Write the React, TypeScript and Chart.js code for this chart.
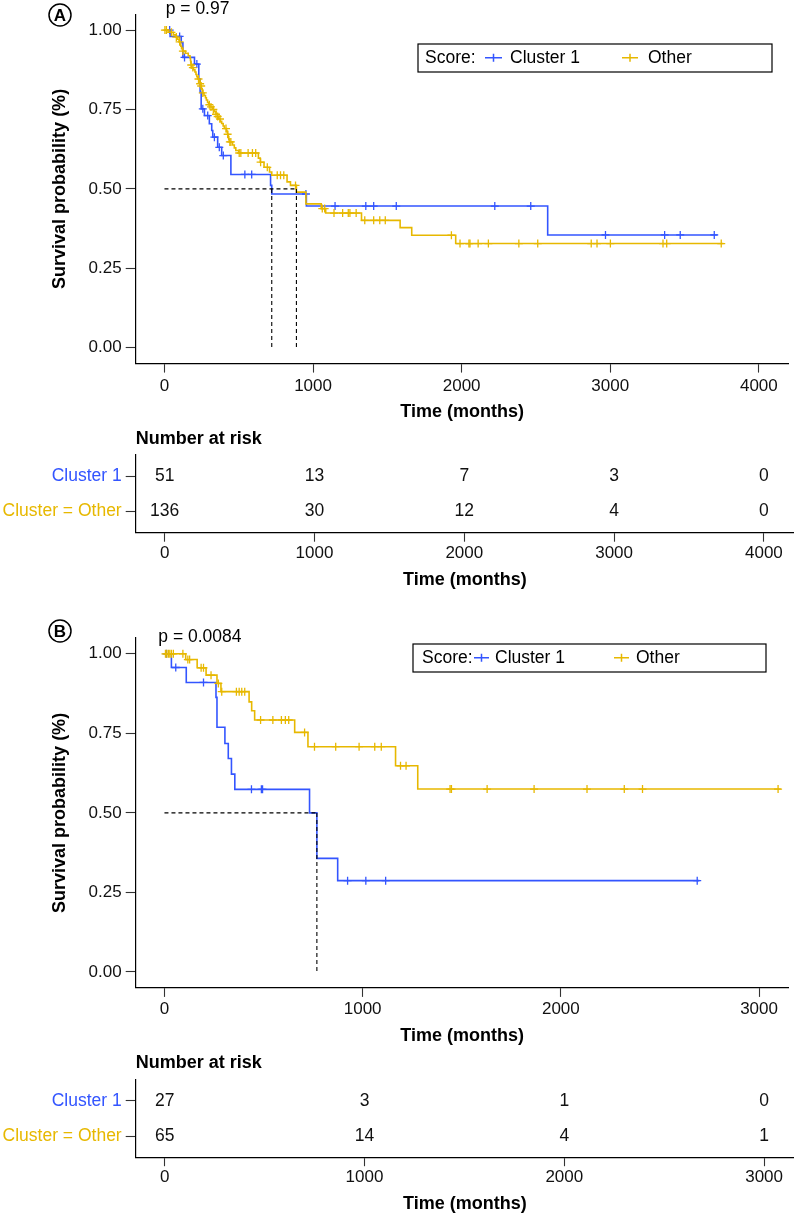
import React, { useEffect, useRef } from 'react';
import { Chart, registerables } from 'chart.js';

Chart.register(...registerables);

const FONT = '"Liberation Sans", Arial, Helvetica, sans-serif';
const BLUE = '#3355FF';
const YELLOW = '#E7B800';

const X_TITLE = 'Time (months)';
const Y_TITLE = 'Survival probability (%)';
const RISK_TITLE = 'Number at risk';
const LEGEND_TITLE = 'Score:';
const LEGEND_LABELS = ['Cluster 1', 'Other'];
const RISK_ROWS = ['Cluster 1', 'Cluster = Other'];
const Y_TICKS = [0, 0.25, 0.5, 0.75, 1];

// ---------------- Panel A ----------------
const A_X_TICKS = [0, 1000, 2000, 3000, 4000];
const A_C1_TIMES = [0, 38, 113, 124, 202, 231, 240, 247, 269, 302, 318, 325, 358, 385, 447, 714, 722, 955, 2579, 3722];
const A_C1_SURV = [1, 0.98, 0.96, 0.914, 0.893, 0.846, 0.804, 0.752, 0.731, 0.705, 0.684, 0.663, 0.631, 0.605, 0.5455, 0.511, 0.484, 0.446, 0.355, 0.355];
const A_C1_CENSOR = [35, 102, 135, 218, 258, 291, 336, 369, 396, 541, 587, 952, 1148, 1355, 1408, 1560, 2223, 2465, 2968, 3366, 3471, 3700];
const A_OT_TIMES = [0, 24, 60, 75, 88, 98, 104, 110, 115, 122, 140, 160, 172, 175, 177, 179, 181, 195, 205, 212, 218, 224, 232, 240, 244, 248, 254, 258, 266, 276, 282, 290, 298, 305, 325, 335, 347, 358, 365, 375, 385, 395, 403, 418, 425, 430, 433, 436, 458, 470, 480, 500, 632, 645, 670, 707, 722, 825, 848, 888, 952, 1055, 1085, 1326, 1586, 1664, 1960, 3762];
const A_OT_SURV = [1, 0.993, 0.985, 0.978, 0.971, 0.963, 0.956, 0.949, 0.941, 0.934, 0.927, 0.919, 0.912, 0.904, 0.897, 0.89, 0.882, 0.875, 0.868, 0.86, 0.853, 0.846, 0.838, 0.831, 0.824, 0.816, 0.809, 0.802, 0.794, 0.787, 0.78, 0.772, 0.765, 0.758, 0.75, 0.743, 0.735, 0.728, 0.72, 0.713, 0.706, 0.698, 0.69, 0.68, 0.672, 0.664, 0.656, 0.648, 0.638, 0.629, 0.621, 0.613, 0.597, 0.584, 0.568, 0.553, 0.543, 0.522, 0.511, 0.49, 0.453, 0.438, 0.424, 0.401, 0.378, 0.354, 0.328, 0.328];
const A_OT_CENSOR = [3, 13, 47, 80, 102, 124, 180, 191, 229, 240, 247, 258, 302, 313, 329, 347, 358, 374, 414, 425, 440, 447, 503, 514, 563, 592, 614, 647, 692, 759, 781, 803, 882, 1062, 1078, 1141, 1199, 1237, 1248, 1290, 1348, 1408, 1449, 1486, 1931, 1989, 2049, 2056, 2111, 2180, 2385, 2512, 2872, 2911, 3001, 3355, 3380, 3747];
const A_RISK_C1 = [51, 13, 7, 3, 0];
const A_RISK_OT = [136, 30, 12, 4, 0];
const A_PVAL = 'p = 0.97';

// ---------------- Panel B ----------------
const B_X_TICKS = [0, 1000, 2000, 3000];
const B_C1_TIMES = [0, 35, 110, 260, 265, 305, 322, 338, 355, 732, 769, 874, 2699];
const B_C1_SURV = [1, 0.957, 0.91, 0.863, 0.769, 0.718, 0.671, 0.622, 0.574, 0.5, 0.357, 0.287, 0.287];
const B_C1_CENSOR = [10, 57, 197, 439, 489, 495, 924, 1016, 1116, 2688];
const B_OT_TIMES = [0, 107, 165, 210, 265, 285, 427, 440, 455, 657, 724, 1166, 1278, 3110];
const B_OT_SURV = [1, 0.982, 0.956, 0.933, 0.907, 0.881, 0.849, 0.821, 0.792, 0.753, 0.708, 0.648, 0.575, 0.575];
const B_OT_CENSOR = [5, 12, 20, 27, 35, 45, 93, 118, 127, 185, 197, 235, 272, 289, 363, 377, 390, 405, 485, 547, 590, 610, 627, 707, 757, 864, 982, 1061, 1094, 1191, 1219, 1441, 1448, 1628, 1865, 2132, 2320, 2412, 3096];
const B_RISK_C1 = [27, 3, 1, 0];
const B_RISK_OT = [65, 14, 4, 1];
const B_PVAL = 'p = 0.0084';

type Group = { times: number[]; surv: number[]; censor: number[]; color: string };

function survivalAt(times: number[], surv: number[], t: number) {
  let s = surv[0];
  for (let i = 0; i < times.length; i++) {
    if (times[i] <= t) s = surv[i];
    else break;
  }
  return s;
}

function medianTime(times: number[], surv: number[]) {
  for (let i = 0; i < times.length; i++) if (surv[i] < 0.5) return times[i];
  return null;
}

const Y_AXIS_WIDTH = 135.7;

function xAxis(xMin: number, xMax: number, xTicks: number[], tickPad: number, titlePad: number, axisH: number) {
  return {
    type: 'linear',
    min: xMin,
    max: xMax,
    afterBuildTicks: (s: any) => {
      s.ticks = xTicks.map((v) => ({ value: v }));
    },
    afterFit: (s: any) => {
      s.height = axisH;
    },
    ticks: {
      callback: (v: any) => String(v),
      font: { family: FONT, size: 17 },
      color: '#111',
      padding: tickPad,
      maxRotation: 0,
      autoSkip: false,
    },
    grid: { display: true, drawOnChartArea: false, drawTicks: true, tickLength: 9, tickColor: '#333', tickWidth: 1.1 },
    border: { display: true, color: '#000', width: 1.2 },
    title: {
      display: true,
      text: X_TITLE,
      font: { family: FONT, size: 18, weight: 'bold' },
      color: '#000',
      padding: { top: 0, bottom: titlePad },
    },
  };
}

type LegendGeom = { box: number[]; titleX: number; keys: number[][]; baseline: number; keyY: number };

type KMProps = {
  top: number;
  height: number;
  chartTop: number;
  chartBottom: number;
  xMin: number;
  xMax: number;
  xTicks: number[];
  tickPad: number;
  titlePad: number;
  groups: Group[];
  pval: string;
  pvalX: number;
  pvalY: number;
  letter: string;
  letterX: number;
  letterY: number;
  legend: LegendGeom;
};

function KMPanel(p: KMProps) {
  const ref = useRef<HTMLCanvasElement>(null);
  useEffect(() => {
    const canvas = ref.current;
    if (!canvas) return;
    const datasets: any[] = [];
    const meds = p.groups.map((g) => medianTime(g.times, g.surv)).filter((m) => m !== null) as number[];
    if (meds.length) {
      const maxMed = Math.max(...meds);
      const dash = {
        type: 'scatter',
        showLine: true,
        borderColor: '#000',
        borderWidth: 1.1,
        borderDash: [4, 3],
        pointRadius: 0,
        fill: false,
      };
      datasets.push({ ...dash, data: [{ x: 0, y: 0.5 }, { x: maxMed, y: 0.5 }] });
      meds.forEach((m) => datasets.push({ ...dash, data: [{ x: m, y: 0.5 }, { x: m, y: 0 }] }));
    }
    [...p.groups].reverse().forEach((g) => {
      datasets.push({
        type: 'scatter',
        data: g.censor.map((t) => ({ x: t, y: survivalAt(g.times, g.surv, t) })),
        pointStyle: 'cross',
        pointRadius: 4,
        pointBorderColor: g.color,
        pointBorderWidth: 1.3,
        borderColor: g.color,
        backgroundColor: g.color,
        showLine: false,
      });
      datasets.push({
        type: 'scatter',
        data: g.times.map((t, i) => ({ x: t, y: g.surv[i] })),
        showLine: true,
        stepped: 'before',
        borderColor: g.color,
        borderWidth: 1.6,
        pointRadius: 0,
        fill: false,
      });
    });

    const decor = {
      id: 'kmDecor',
      afterDraw(chart: any) {
        const ctx = chart.ctx as CanvasRenderingContext2D;
        ctx.save();
        ctx.beginPath();
        ctx.arc(p.letterX, p.letterY, 11, 0, Math.PI * 2);
        ctx.lineWidth = 1.5;
        ctx.strokeStyle = '#000';
        ctx.stroke();
        ctx.fillStyle = '#000';
        ctx.font = `bold 17px ${FONT}`;
        ctx.textAlign = 'center';
        ctx.textBaseline = 'middle';
        ctx.fillText(p.letter, p.letterX, p.letterY + 1);

        ctx.font = `17.5px ${FONT}`;
        ctx.textAlign = 'left';
        ctx.textBaseline = 'alphabetic';
        ctx.fillText(p.pval, p.pvalX, p.pvalY);

        const L = p.legend;
        ctx.lineWidth = 1.2;
        ctx.strokeStyle = '#000';
        ctx.strokeRect(L.box[0], L.box[1], L.box[2] - L.box[0], L.box[3] - L.box[1]);
        ctx.fillText(LEGEND_TITLE, L.titleX, L.baseline);
        p.groups.forEach((g, i) => {
          const [k0, k1, lx] = L.keys[i];
          const km = (k0 + k1) / 2;
          ctx.strokeStyle = g.color;
          ctx.lineWidth = 1.5;
          ctx.beginPath();
          ctx.moveTo(k0, L.keyY);
          ctx.lineTo(k1, L.keyY);
          ctx.moveTo(km, L.keyY - 4);
          ctx.lineTo(km, L.keyY + 4);
          ctx.stroke();
          ctx.fillStyle = '#000';
          ctx.fillText(LEGEND_LABELS[i], lx, L.baseline);
        });
        ctx.restore();
      },
    };

    const chart = new Chart(canvas, {
      type: 'scatter',
      data: { datasets },
      options: {
        responsive: false,
        animation: false,
        devicePixelRatio: 1,
        events: [],
        layout: { padding: { top: p.chartTop, left: 0, right: 0, bottom: 0 } },
        plugins: { legend: { display: false }, tooltip: { enabled: false }, title: { display: false } },
        scales: {
          x: xAxis(p.xMin, p.xMax, p.xTicks, p.tickPad, p.titlePad, p.height - p.chartBottom) as any,
          y: {
            type: 'linear',
            min: -0.05,
            max: 1.05,
            afterBuildTicks: (s: any) => {
              s.ticks = Y_TICKS.map((v) => ({ value: v }));
            },
            afterFit: (s: any) => {
              s.width = Y_AXIS_WIDTH;
            },
            ticks: {
              callback: (v: any) => Number(v).toFixed(2),
              font: { family: FONT, size: 17 },
              color: '#111',
              padding: 4,
            },
            grid: { display: true, drawOnChartArea: false, drawTicks: true, tickLength: 10, tickColor: '#333', tickWidth: 1.1 },
            border: { display: true, color: '#000', width: 1.2 },
            title: {
              display: true,
              text: Y_TITLE,
              font: { family: FONT, size: 18, weight: 'bold' },
              color: '#000',
              padding: { top: 49, bottom: 0 },
            },
          } as any,
        },
      },
      plugins: [decor],
    });
    return () => chart.destroy();
  }, []);
  return (
    <div style={{ position: 'absolute', left: 0, top: p.top, width: 794, height: p.height }}>
      <canvas ref={ref} width={794} height={p.height} style={{ display: 'block' }} />
    </div>
  );
}

type RiskProps = {
  top: number;
  height: number;
  chartTop: number;
  chartBottom: number;
  xMin: number;
  xMax: number;
  xTicks: number[];
  tickPad: number;
  titlePad: number;
  rows: number[][];
};

function RiskTable(p: RiskProps) {
  const ref = useRef<HTMLCanvasElement>(null);
  useEffect(() => {
    const canvas = ref.current;
    if (!canvas) return;
    const rowColors = [BLUE, YELLOW];
    const numbers = {
      id: 'riskNumbers',
      afterDraw(chart: any) {
        const ctx = chart.ctx as CanvasRenderingContext2D;
        const xs = chart.scales.x;
        const ys = chart.scales.y;
        ctx.save();
        ctx.fillStyle = '#111';
        ctx.font = `17.5px ${FONT}`;
        ctx.textAlign = 'center';
        ctx.textBaseline = 'middle';
        p.rows.forEach((row, r) => {
          row.forEach((n, i) => {
            ctx.fillText(String(n), xs.getPixelForValue(p.xTicks[i]), ys.getPixelForValue(r + 1));
          });
        });
        ctx.fillStyle = '#000';
        ctx.font = `bold 18px ${FONT}`;
        ctx.textAlign = 'left';
        ctx.fillText(RISK_TITLE, chart.chartArea.left, chart.chartArea.top - 16);
        ctx.restore();
      },
    };
    const chart = new Chart(canvas, {
      type: 'scatter',
      data: { datasets: [{ data: [] }] },
      options: {
        responsive: false,
        animation: false,
        devicePixelRatio: 1,
        events: [],
        layout: { padding: { top: p.chartTop, left: 0, right: 0, bottom: 0 } },
        plugins: { legend: { display: false }, tooltip: { enabled: false }, title: { display: false } },
        scales: {
          x: xAxis(p.xMin, p.xMax, p.xTicks, p.tickPad, p.titlePad, p.height - p.chartBottom) as any,
          y: {
            type: 'linear',
            min: 0.4,
            max: 2.6,
            reverse: true,
            afterBuildTicks: (s: any) => {
              s.ticks = [{ value: 1 }, { value: 2 }];
            },
            afterFit: (s: any) => {
              s.width = Y_AXIS_WIDTH;
            },
            ticks: {
              callback: (v: any) => RISK_ROWS[Math.round(Number(v)) - 1],
              font: { family: FONT, size: 17.5 },
              color: (c: any) => rowColors[c.index] || '#000',
              padding: 4,
            },
            grid: { display: true, drawOnChartArea: false, drawTicks: true, tickLength: 10, tickColor: '#333', tickWidth: 1.1 },
            border: { display: true, color: '#000', width: 1.2 },
          } as any,
        },
      },
      plugins: [numbers],
    });
    return () => chart.destroy();
  }, []);
  return (
    <div style={{ position: 'absolute', left: 0, top: p.top, width: 794, height: p.height }}>
      <canvas ref={ref} width={794} height={p.height} style={{ display: 'block' }} />
    </div>
  );
}

const A_X_MIN = -193.6;
const A_X_MAX = 4201;
const B_X_MIN = -145.1;
const B_X_MAX = 3149.6;

export default function App() {
  const groupsA: Group[] = [
    { times: A_C1_TIMES, surv: A_C1_SURV, censor: A_C1_CENSOR, color: BLUE },
    { times: A_OT_TIMES, surv: A_OT_SURV, censor: A_OT_CENSOR, color: YELLOW },
  ];
  const groupsB: Group[] = [
    { times: B_C1_TIMES, surv: B_C1_SURV, censor: B_C1_CENSOR, color: BLUE },
    { times: B_OT_TIMES, surv: B_OT_SURV, censor: B_OT_CENSOR, color: YELLOW },
  ];
  return (
    <div
      style={{
        position: 'absolute',
        left: 0,
        top: 0,
        width: 794,
        height: 1213,
        overflow: 'hidden',
        background: '#fff',
      }}
    >
      <KMPanel
        top={0}
        height={425}
        chartTop={13.4}
        chartBottom={363.6}
        xMin={A_X_MIN}
        xMax={A_X_MAX}
        xTicks={A_X_TICKS}
        tickPad={4}
        titlePad={2.5}
        groups={groupsA}
        pval={A_PVAL}
        pvalX={165.7}
        pvalY={14}
        letter="A"
        letterX={60}
        letterY={15}
        legend={{ box: [418, 44, 772, 72], titleX: 425, keys: [[485, 502, 510], [622, 638, 648]], baseline: 63.3, keyY: 57.7 }}
      />
      <RiskTable
        top={425}
        height={175}
        chartTop={30}
        chartBottom={107.7}
        xMin={A_X_MIN}
        xMax={A_X_MAX}
        xTicks={A_X_TICKS}
        tickPad={1.4}
        titlePad={9.2}
        rows={[A_RISK_C1, A_RISK_OT]}
      />
      <KMPanel
        top={600}
        height={449}
        chartTop={37.9}
        chartBottom={387.9}
        xMin={B_X_MIN}
        xMax={B_X_MAX}
        xTicks={B_X_TICKS}
        tickPad={2.4}
        titlePad={2.2}
        groups={groupsB}
        pval={B_PVAL}
        pvalX={158.3}
        pvalY={41.7}
        letter="B"
        letterX={60}
        letterY={31}
        legend={{ box: [413, 44, 766, 72], titleX: 422, keys: [[474, 489, 495], [614, 629, 636]], baseline: 63.3, keyY: 57.7 }}
      />
      <RiskTable
        top={1049}
        height={170}
        chartTop={30.5}
        chartBottom={108.2}
        xMin={B_X_MIN}
        xMax={B_X_MAX}
        xTicks={B_X_TICKS}
        tickPad={1.4}
        titlePad={4.2}
        rows={[B_RISK_C1, B_RISK_OT]}
      />
    </div>
  );
}
